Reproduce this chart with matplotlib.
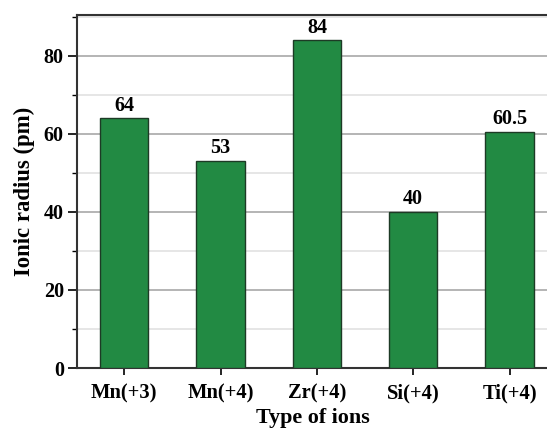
import matplotlib
matplotlib.use("Agg")
import matplotlib.pyplot as plt
from matplotlib.ticker import MultipleLocator

ions = ["Mn(+3)", "Mn(+4)", "Zr(+4)", "Si(+4)", "Ti(+4)"]
radius = [64, 53, 84, 40, 60.5]
value_labels = ["64", "53", "84", "40", "60.5"]

plt.rcParams["font.family"] = ["Liberation Serif", "DejaVu Serif"]
plt.rcParams["font.weight"] = "bold"

fig = plt.figure(figsize=(5.47, 4.28), dpi=100)
ax = fig.add_axes([77 / 547, 1 - 368 / 428, 1.0 - 77 / 547 + 0.002, (368 - 15) / 428])

x = list(range(len(ions)))
ax.bar(x, radius, width=0.5, color="#228a43", edgecolor="#1d3a25", linewidth=1.0, zorder=3)

for xi, v, lab in zip(x, radius, value_labels):
    ax.annotate(lab, (xi, v), xytext=(0, 2), textcoords="offset points",
                ha="center", va="bottom", fontsize=14.5, fontweight="bold")

ax.set_xlim(-0.49, 4.4)
ax.set_ylim(0, 90.5)
ax.set_xticks(x)
ax.set_xticklabels(ions, fontsize=14.8, fontweight="bold")
ax.yaxis.set_major_locator(MultipleLocator(20))
ax.yaxis.set_minor_locator(MultipleLocator(10))
ax.tick_params(axis="y", which="major", labelsize=14.5, length=6.5, width=1.2, direction="out", pad=3)
ax.tick_params(axis="y", which="minor", length=3.5, width=1.0, direction="out")
ax.tick_params(axis="x", which="major", length=5, width=1.2, direction="out", pad=6)
for t in ax.get_yticklabels():
    t.set_fontweight("bold")

ax.grid(axis="y", which="major", color="#a8a8a8", linewidth=1.2, zorder=0)
ax.grid(axis="y", which="minor", color="#e2e2e2", linewidth=1.2, zorder=0)
ax.set_axisbelow(True)

for side in ["left", "bottom", "top"]:
    ax.spines[side].set_linewidth(1.5)
    ax.spines[side].set_color("#333333")
ax.spines["right"].set_visible(False)

ax.set_ylabel("Ionic radius (pm)", fontsize=16.4, fontweight="bold", labelpad=6)
ax.set_xlabel("Type of ions", fontsize=15.8, fontweight="bold", labelpad=3.5)

fig.savefig("out.png", dpi=100)
